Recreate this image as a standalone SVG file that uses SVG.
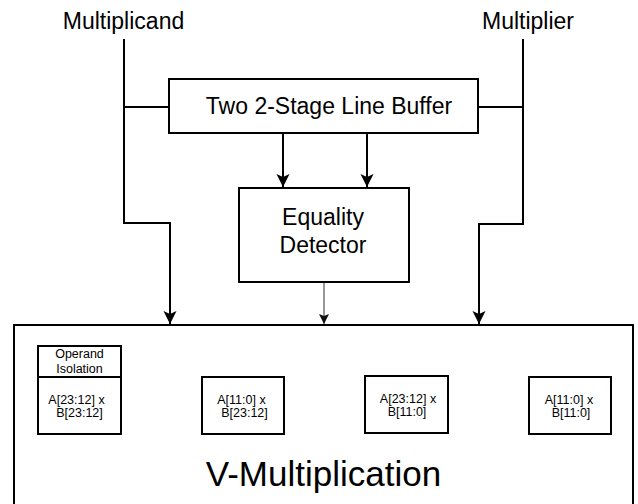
<svg xmlns="http://www.w3.org/2000/svg" width="638" height="504" viewBox="0 0 638 504">
  <style>
    .box { fill: #ffffff; stroke: #000000; stroke-width: 2; }
    .wire { fill: none; stroke: #000000; stroke-width: 2; }
    .thin { fill: none; stroke: #555555; stroke-width: 1.2; }
    text { font-family: "Liberation Sans", Arial, Helvetica, sans-serif; fill: #000000; text-anchor: middle; }
    .lbl { font-size: 23px; }
    .big { font-size: 35px; }
    .sm { font-size: 12.5px; }
  </style>
  <defs>
    <marker id="arrow" markerUnits="userSpaceOnUse" markerWidth="16" markerHeight="16" viewBox="-14 -8 16 16" refX="0" refY="0" orient="auto" overflow="visible">
      <path d="M0,0 L-13,-6.5 L-10,0 L-13,6.5 Z" fill="#000000"/>
    </marker>
    <marker id="arrow-small" markerUnits="userSpaceOnUse" markerWidth="12" markerHeight="12" viewBox="-11 -6 12 12" refX="0" refY="0" orient="auto" overflow="visible">
      <path d="M0,0 L-10,-5 L-8,0 L-10,5 Z" fill="#111111"/>
    </marker>
  </defs>

  <rect width="638" height="504" fill="#ffffff"/>

  <!-- input labels -->
  <g id="multiplicand">
    <text class="lbl" x="123.5" y="29">Multiplicand</text>
  </g>
  <g id="multiplier">
    <text class="lbl" x="528" y="29">Multiplier</text>
  </g>

  <!-- connectors -->
  <g id="connectors">
    <path class="wire" d="M124,39 V223 H170 V324" marker-end="url(#arrow)"/>
    <path class="wire" d="M124,107 H169"/>
    <path class="wire" d="M523,39 V224 H479 V324" marker-end="url(#arrow)"/>
    <path class="wire" d="M523,107 H478"/>
    <path class="wire" d="M283,133 V187" marker-end="url(#arrow)"/>
    <path class="wire" d="M367,133 V187" marker-end="url(#arrow)"/>
    <path class="thin" d="M324,282 V324" marker-end="url(#arrow-small)"/>
  </g>

  <g id="line-buffer">
    <rect class="box" x="169" y="79" width="309" height="54"/>
    <text class="lbl" x="329" y="114">Two 2-Stage Line Buffer</text>
  </g>

  <g id="equality-detector">
    <rect class="box" x="239" y="188" width="170" height="94"/>
    <text class="lbl" x="323" y="225">Equality</text>
    <text class="lbl" x="323" y="253">Detector</text>
  </g>

  <g id="v-multiplication">
    <rect class="box" x="14" y="325" width="619" height="200"/>
    <text class="big" x="323.5" y="486">V-Multiplication</text>
  </g>

  <g id="operand-isolation">
    <rect class="box" x="38" y="346" width="83" height="31"/>
    <text class="sm" x="79.5" y="358">Operand</text>
    <text class="sm" x="79.5" y="373">Isolation</text>
  </g>

  <g id="mul-hh">
    <rect class="box" x="38" y="377" width="83" height="57"/>
    <text class="sm" x="76.5" y="404">A[23:12] x</text>
    <text class="sm" x="79.5" y="417">B[23:12]</text>
  </g>

  <g id="mul-lh">
    <rect class="box" x="202" y="377" width="82" height="57"/>
    <text class="sm" x="241.5" y="404">A[11:0] x</text>
    <text class="sm" x="244.5" y="417">B[23:12]</text>
  </g>

  <g id="mul-hl">
    <rect class="box" x="365" y="376" width="83" height="57"/>
    <text class="sm" x="408" y="403">A[23:12] x</text>
    <text class="sm" x="407" y="416">B[11:0]</text>
  </g>

  <g id="mul-ll">
    <rect class="box" x="529" y="377" width="82" height="57"/>
    <text class="sm" x="569" y="404">A[11:0] x</text>
    <text class="sm" x="571" y="417">B[11:0]</text>
  </g>
</svg>
